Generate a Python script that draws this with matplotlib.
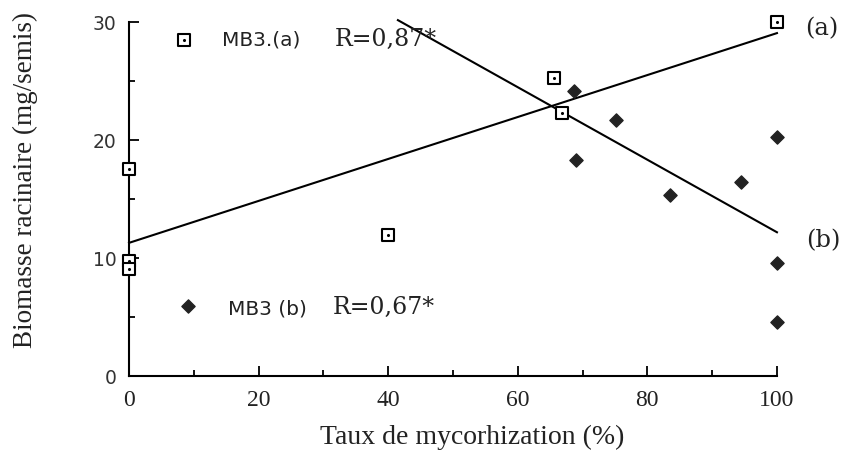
import numpy as np
import matplotlib
matplotlib.use("Agg")
import matplotlib.pyplot as plt
from matplotlib.ticker import MultipleLocator

# data
xa = [0, 0, 0, 40, 65.6, 66.8, 100]
ya = [17.6, 9.8, 9.1, 12.0, 25.3, 22.3, 30.0]
xb = [68.7, 75.1, 69.0, 83.5, 94.4, 100, 100, 100]
yb = [24.2, 21.7, 18.3, 15.4, 16.5, 20.3, 9.6, 4.6]
# regression lines (end points)
line_a_x = [0, 100]
line_a_y = [11.3, 29.1]
line_b_x = [41.5, 100]
line_b_y = [30.2, 12.2]

serif = "Liberation Serif"
wserif = "DejaVu Serif"
sans = "DejaVu Sans"

fig = plt.figure(figsize=(8.51, 4.62), dpi=100)
ax = fig.add_axes([0.1516, 0.1861, 0.7614, 0.7652])

ax.plot(line_a_x, line_a_y, color="k", lw=1.5, clip_on=False)
ax.plot(line_b_x, line_b_y, color="k", lw=1.5, clip_on=False)

# open squares with a dot in the middle
ax.scatter(xa, ya, marker="s", s=70, facecolor="white", edgecolor="k", linewidth=1.5, zorder=3, clip_on=False)
ax.scatter(xa, ya, marker=".", s=6, color="k", zorder=4, clip_on=False)
# filled diamonds
ax.scatter(xb, yb, marker="D", s=45, color="#222222", zorder=3, clip_on=False)

# legend-like annotations
ax.scatter([8.5], [28.5], marker="s", s=70, facecolor="white", edgecolor="k", linewidth=1.5, clip_on=False)
ax.scatter([8.5], [28.5], marker=".", s=6, color="k", clip_on=False)
ax.text(14.3, 28.5, "MB3.(a)", family=sans, fontsize=14.5, va="center", color="#222222")
ax.text(31.8, 28.6, "R=0,87*", family=wserif, fontsize=17, va="center", color="#222222")
ax.scatter([9.1], [5.9], marker="D", s=45, color="#222222", clip_on=False)
ax.text(15.3, 5.7, "MB3 (b)", family=sans, fontsize=14.5, va="center", color="#222222")
ax.text(31.5, 5.8, "R=0,67*", family=wserif, fontsize=17, va="center", color="#222222")

ax.text(104.3, 29.5, "(a)", family=wserif, fontsize=17.5, va="center", color="#222222")
ax.text(104.5, 11.5, "(b)", family=wserif, fontsize=17.5, va="center", color="#222222")

ax.set_xlim(0, 100)
ax.set_ylim(0, 30)
ax.spines["top"].set_visible(False)
ax.spines["right"].set_visible(False)
for s in ["left", "bottom"]:
    ax.spines[s].set_linewidth(1.5)

ax.xaxis.set_major_locator(MultipleLocator(20))
ax.xaxis.set_minor_locator(MultipleLocator(10))
ax.yaxis.set_major_locator(MultipleLocator(10))
ax.yaxis.set_minor_locator(MultipleLocator(5))
ax.tick_params(which="both", direction="in", width=1.3)
ax.tick_params(which="major", length=7)
ax.tick_params(which="minor", length=4)
ax.tick_params(axis="x", pad=10)
ax.tick_params(axis="y", pad=9)
for lab in ax.get_xticklabels():
    lab.set_family(serif)
    lab.set_fontsize(17)
    lab.set_color("#222222")
for lab in ax.get_yticklabels():
    lab.set_family(sans)
    lab.set_fontsize(13.5)
    lab.set_color("#333333")

ax.set_xlabel("Taux de mycorhization (%)", family=serif, fontsize=20, color="#222222")
ax.set_ylabel("Biomasse racinaire (mg/semis)", family=serif, fontsize=19.5, color="#222222")
ax.xaxis.set_label_coords(0.529, -0.138)
ax.yaxis.set_label_coords(-0.14, 0.555)

fig.savefig("out.png", dpi=100)
